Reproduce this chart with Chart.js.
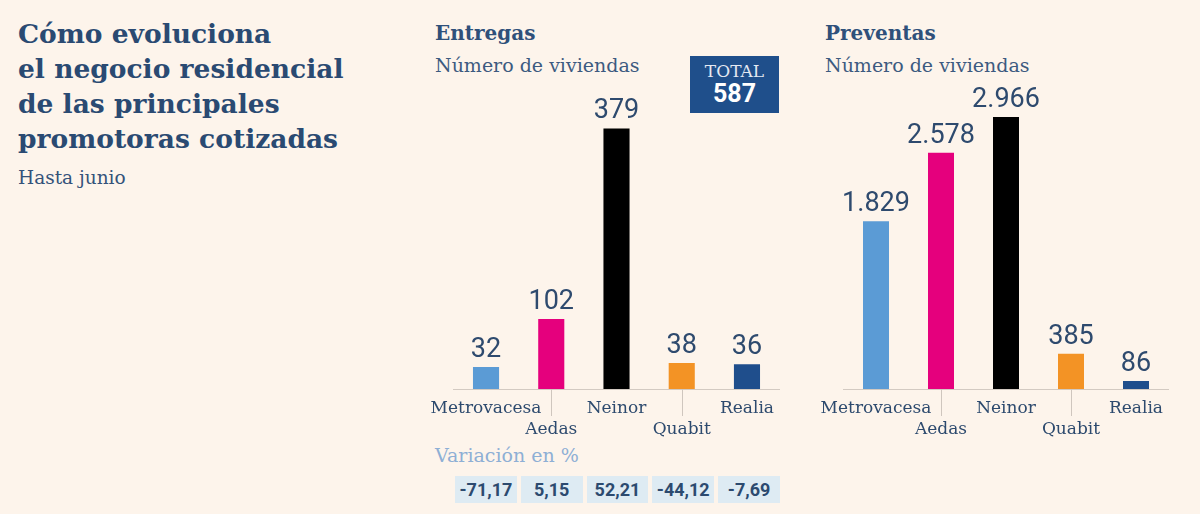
<!DOCTYPE html>
<html>
<head>
<meta charset="utf-8">
<script src="https://cdn.jsdelivr.net/npm/chart.js@4.4.1/dist/chart.umd.min.js"></script>
<style>
  html, body { margin:0; padding:0; }
  body { width:1200px; height:514px; background:#fdf4eb; position:relative; overflow:hidden; font-family:"DejaVu Serif", serif; color:#2b4b73; }
  .abs { position:absolute; white-space:nowrap; }
  #title { left:18px; top:16px; font-size:26.5px; line-height:35px; font-weight:bold; color:#2a4a72; }
  #sub { left:18px; top:169px; font-size:18.5px; line-height:18.5px; color:#34527a; }
  .head { font-size:20px; line-height:20px; font-weight:bold; color:#2f507a; }
  .unit { font-size:19px; line-height:19px; color:#3c5a80; }
  #total { left:690px; top:56px; width:89px; height:57px; background:#1f4f8b; color:#fff; text-align:center; }
  #total .t1 { font-size:17px; line-height:17px; margin-top:7px; color:#e4e9f2; }
  #total .t2 { font-family:Roboto, sans-serif; font-weight:bold; font-size:25px; line-height:27px; }
  #var { left:435px; top:446px; font-size:19px; line-height:19px; color:#8eafd5; }
  #tbl { left:455px; top:476px; width:325px; height:27px; display:flex; gap:4px; }
  #tbl div { flex:1; background:#deebf3; font-family:Roboto, sans-serif; font-weight:bold; font-size:18px; line-height:27px; text-align:center; color:#2c4a6f; }
  canvas { position:absolute; top:0; }
</style>
</head>
<body>
<div id="title" class="abs">Cómo evoluciona<br>el negocio residencial<br>de las principales<br>promotoras cotizadas</div>
<div id="sub" class="abs">Hasta junio</div>

<div class="abs head" style="left:435px;top:23px;">Entregas</div>
<div class="abs unit" style="left:435px;top:56px;">Número de viviendas</div>
<div id="total" class="abs"><div class="t1">TOTAL</div><div class="t2" id="totalVal"></div></div>

<div class="abs head" style="left:825px;top:23px;">Preventas</div>
<div class="abs unit" style="left:825px;top:56px;">Número de viviendas</div>

<div id="var" class="abs">Variación en %</div>
<div id="tbl" class="abs"></div>

<canvas id="c1" width="440" height="514" style="left:390px;"></canvas>
<canvas id="c2" width="420" height="514" style="left:780px;"></canvas>

<script>
// ---- Data ----
const categories = ["Metrovacesa", "Aedas", "Neinor", "Quabit", "Realia"];
const entregas = [32, 102, 379, 38, 36];
const preventas = [1829, 2578, 2966, 385, 86];
const variacion = ["-71,17", "5,15", "52,21", "-44,12", "-7,69"];
const totalEntregas = "587";
const staggered = [false, true, false, true, false];
const barColors = ["#5b9bd5", "#e5007d", "#000000", "#f39325", "#1f4e8c"];

document.getElementById('totalVal').textContent = totalEntregas;
const tbl = document.getElementById('tbl');
variacion.forEach(v => { const d = document.createElement('div'); d.textContent = v; tbl.appendChild(d); });

const fmt = v => String(v).replace(/\B(?=(\d{3})+(?!\d))/g, '.');

const valueLabels = {
  id: 'valueLabels',
  afterDatasetsDraw(chart) {
    const ctx = chart.ctx;
    const meta = chart.getDatasetMeta(0);
    const data = chart.data.datasets[0].data;
    ctx.save();
    ctx.font = '400 27px Roboto, sans-serif';
    ctx.fillStyle = '#2e4a6e';
    ctx.textAlign = 'center';
    ctx.textBaseline = 'alphabetic';
    meta.data.forEach((bar, i) => {
      ctx.fillText(fmt(data[i]), bar.x, bar.y - 10);
    });
    ctx.restore();
  }
};

const staggerTicks = {
  id: 'staggerTicks',
  afterDraw(chart) {
    const ctx = chart.ctx;
    const xs = chart.scales.x;
    ctx.save();
    ctx.strokeStyle = '#cfc6be';
    ctx.lineWidth = 1;
    staggered.forEach((s, i) => {
      if (!s) return;
      const x = Math.round(xs.getPixelForValue(i)) + 0.5;
      ctx.beginPath();
      ctx.moveTo(x, chart.chartArea.bottom);
      ctx.lineTo(x, chart.chartArea.bottom + 27);
      ctx.stroke();
    });
    ctx.restore();
  }
};

function makeChart(id, values, max, padL, padR) {
  const labels = categories.map((c, i) => staggered[i] ? ['', c] : c);
  return new Chart(document.getElementById(id), {
    type: 'bar',
    data: { labels, datasets: [{ data: values, backgroundColor: barColors, borderWidth: 0, barPercentage: 0.4, categoryPercentage: 1 }] },
    options: {
      responsive: false, animation: false,
      layout: { padding: { left: padL, right: padR, top: 114, bottom: 65 } },
      plugins: { legend: { display: false }, tooltip: { enabled: false } },
      scales: {
        x: {
          grid: { display: false },
          border: { display: true, color: '#d3cac2', width: 1 },
          ticks: { color: '#2d4a6e', font: { family: 'DejaVu Serif', size: 17, lineHeight: 1.25 }, padding: 1, maxRotation: 0, autoSkip: false },
          afterFit: s => { s.height = 60; }
        },
        y: { display: false, min: 0, max: max }
      }
    },
    plugins: [valueLabels, staggerTicks]
  });
}

makeChart('c1', entregas, 400, 63.4, 50.4);
makeChart('c2', preventas, 3000, 63.5, 31.5);
</script>
</body>
</html>
